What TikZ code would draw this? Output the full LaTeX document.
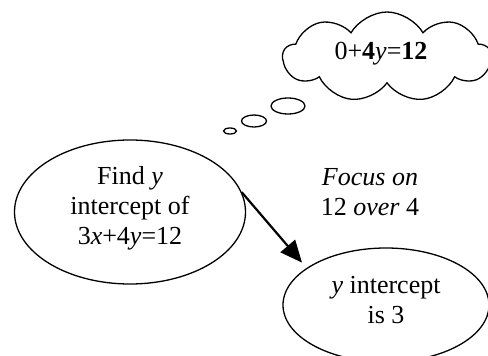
\documentclass[tikz,border=0pt]{standalone}
\usepackage{fontspec}
\setmainfont{Liberation Serif}
\usetikzlibrary{shapes.geometric,shapes.symbols,arrows.meta}
\tikzset{
  bubble/.style={ellipse, draw, line width=1.3pt, inner sep=0pt, align=center,
    font=\fontsize{26}{30}\selectfont},
  thought/.style={ellipse, draw, line width=1.3pt, inner sep=0pt},
  txt/.style={align=center, font=\fontsize{26}{30}\selectfont, inner sep=0pt},
  arr/.style={line width=2.2pt, -{Triangle[length=22pt,width=19pt]}}
}
\begin{document}
\begin{tikzpicture}[x=1pt,y=-1pt]
\useasboundingbox (0,0) rectangle (488,356);
\node[bubble, minimum width=231pt, minimum height=144pt] (L) at (130,212) {};
\node[txt] (Lt) at (130,208) {Find \textit{y}\\intercept of\\3\textit{x}+4\textit{y}=12};
\node[bubble, minimum width=206pt, minimum height=114pt] (R) at (386,305) {};
\node[txt] (Rt) at (386,300) {\textit{y} intercept\\is 3};
\node[txt] (F) at (370,192) {\textit{Focus on}\\12 \textit{over} 4};
\node[cloud, draw, line width=1.3pt, cloud puffs=9, cloud puff arc=120,
  minimum width=208pt, minimum height=90pt, inner sep=0pt] (C) at (387,57) {};
\node[txt] (Ct) at (381,54) {0+\textbf{4}\textit{y}=\textbf{12}};
\node[thought, minimum width=34pt, minimum height=16pt] (b1) at (288,106) {};
\node[thought, minimum width=25pt, minimum height=12pt] (b2) at (254,121) {};
\node[thought, minimum width=13pt, minimum height=6pt] (b3) at (230,131) {};
\draw[arr, shorten >=7pt] (L.10) -- (R.155);
\end{tikzpicture}
\end{document}
